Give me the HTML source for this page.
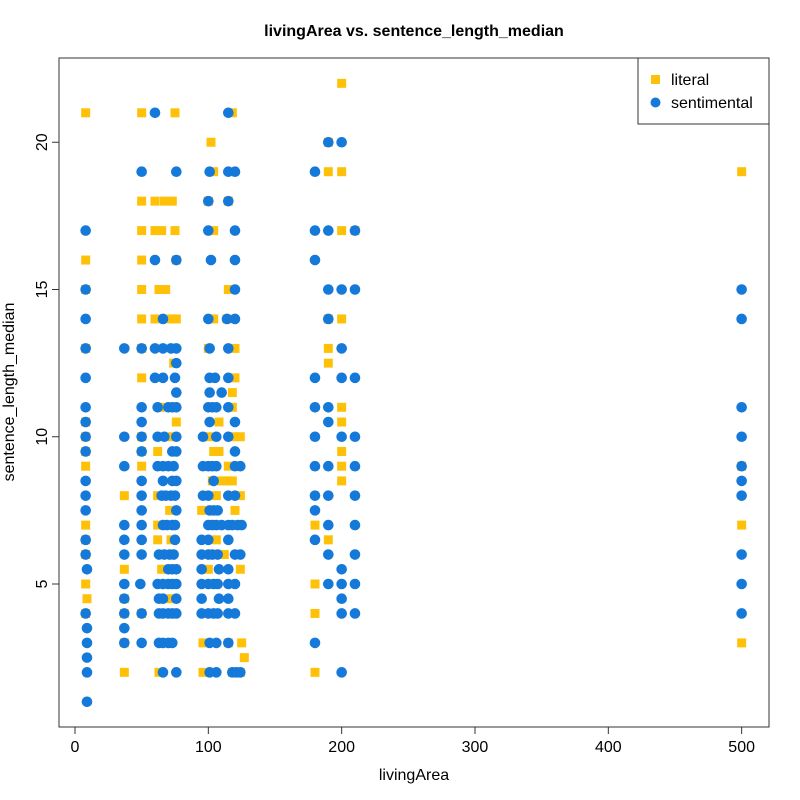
<!DOCTYPE html>
<html><head><meta charset="utf-8"><style>
body{margin:0;background:#fff}
svg{display:block;font-family:"Liberation Sans",Arial,sans-serif}
</style></head><body>
<svg id="chart" width="800" height="800" viewBox="0 0 800 800">
<rect x="0" y="0" width="800" height="800" fill="#fff"/>
<text x="414" y="36" text-anchor="middle" font-size="16" font-weight="bold">livingArea vs. sentence_length_median</text>
<g id="marks"></g>
<rect x="59" y="58" width="710" height="669" fill="none" stroke="#333" stroke-width="1"/>
<g id="axes"></g>
<text x="414" y="780" text-anchor="middle" font-size="16">livingArea</text>
<text transform="translate(14,392) rotate(-90)" text-anchor="middle" font-size="16">sentence_length_median</text>
<g>
<rect x="638" y="58" width="131" height="66" fill="#fff" stroke="#333"/>
<rect x="651" y="75" width="9" height="9" fill="#FFC107"/>
<text x="671" y="85" font-size="16">literal</text>
<circle cx="655.5" cy="102.5" r="5" fill="#1479D9"/>
<text x="671" y="108" font-size="16">sentimental</text>
</g>
</svg>
<script>
const xTicks=[0,100,200,300,400,500];
const yTicks=[5,10,15,20];
const literalPts=[
[8,21],[50,21],[75,21],[118,21],[102,20],[104,19],[50,18],[60,18],[67,18],[73,18],[100,18],[115,18],
[50,17],[60,17],[65,17],[75,17],[104,17],[8,16],[50,16],[76,16],[8,15],[50,15],[63,15],[68,15],[115,15],
[50,14],[60,14],[72,14],[76,14],[104,14],[114,14],[8,13],[50,13],[100,13],[120,13],[74,12.5],[50,12],[120,12],[118,11.5],
[65,11],[118,11],[8,10.5],[76,10.5],[108,10.5],[8,10],[50,10],[73,10],[100,10],[120,10],[124,10],
[8,9.5],[50,9.5],[62,9.5],[104,9.5],[108,9.5],[8,9],[50,9],[115,9],[103,8.5],[110,8.5],[114,8.5],[118,8.5],
[37,8],[62,8],[106,8],[124,8],[71,7.5],[95,7.5],[120,7.5],[8,7],[62,7],[8,6.5],[62,6.5],[72,6.5],[106,6.5],
[8,6],[112,6],[37,5.5],[65,5.5],[100,5.5],[124,5.5],[8,5],[9,4.5],[37,4.5],[72,4.5],[8,4],[37,4],[50,4],
[37,3],[96,3],[115,3],[125,3],[127,2.5],[37,2],[63,2],[96,2],[118,2],[124,2],
[200,22],[190,20],[190,19],[200,19],[200,17],[210,17],[190,14],[200,14],[190,13],[190,12.5],[200,11],[200,10.5],
[200,9.5],[200,9],[200,8.5],[180,7],[190,6.5],[180,5],[180,4],[180,2],
[500,19],[500,9],[500,7],[500,3]
];
const sentimentalPts=[
[60,21],[115,21],[50,19],[76,19],[101,19],[115,19],[120,19],[100,18],[115,18],[8,17],[100,17],[120,17],
[60,16],[76,16],[102,16],[120,16],[8,15],[120,15],[8,14],[66,14],[100,14],[114,14],[120,14],
[8,13],[37,13],[50,13],[60,13],[66,13],[72,13],[76,13],[101,13],[115,13],[76,12.5],
[8,12],[60,12],[66,12],[75,12],[101,12],[105,12],[115,12],[76,11.5],[101,11.5],[110,11.5],
[8,11],[50,11],[62,11],[70,11],[73,11],[76,11],[100,11],[103,11],[106,11],[115,11],
[8,10.5],[50,10.5],[101,10.5],[120,10.5],[8,10],[37,10],[50,10],[62,10],[67,10],[76,10],[96,10],[106,10],[115,10],
[8,9.5],[50,9.5],[73,9.5],[76,9.5],[120,9.5],[37,9],[62,9],[66,9],[70,9],[74,9],[96,9],[100,9],[103,9],[106,9],[120,9],[124,9],
[8,8.5],[50,8.5],[66,8.5],[73,8.5],[76,8.5],[104,8.5],[8,8],[50,8],[65,8],[68,8],[72,8],[75,8],[96,8],[100,8],[115,8],[120,8],
[8,7.5],[50,7.5],[76,7.5],[101,7.5],[104,7.5],[107,7.5],[37,7],[50,7],[66,7],[69,7],[73,7],[75,7],[100,7],[103,7],[106,7],[110,7],[115,7],[118,7],[122,7],[125,7],
[8,6.5],[37,6.5],[50,6.5],[75,6.5],[95,6.5],[100,6.5],[115,6.5],[8,6],[37,6],[50,6],[63,6],[67,6],[71,6],[74,6],[95,6],[100,6],[103,6],[107,6],[120,6],[124,6],
[9,5.5],[70,5.5],[73,5.5],[76,5.5],[95,5.5],[108,5.5],[115,5.5],[37,5],[49,5],[62,5],[66,5],[70,5],[73,5],[76,5],[95,5],[100,5],[104,5],[107,5],[115,5],[120,5],
[37,4.5],[63,4.5],[66,4.5],[76,4.5],[95,4.5],[108,4.5],[115,4.5],[8,4],[37,4],[50,4],[63,4],[66,4],[70,4],[73,4],[76,4],[95,4],[100,4],[104,4],[107,4],[115,4],[120,4],
[9,3.5],[37,3.5],[9,3],[37,3],[50,3],[63,3],[66,3],[70,3],[73,3],[101,3],[106,3],[115,3],[9,2.5],
[9,2],[66,2],[76,2],[101,2],[106,2],[118,2],[121,2],[124,2],[9,1],
[190,20],[200,20],[180,19],[180,17],[190,17],[210,17],[180,16],[190,15],[200,15],[210,15],[190,14],[200,13],
[180,12],[200,12],[210,12],[180,11],[190,11],[190,10.5],[180,10],[200,10],[210,10],[180,9],[190,9],[210,9],
[180,8],[190,8],[210,8],[180,7.5],[190,7],[210,7],[180,6.5],[190,6],[210,6],[200,5.5],[190,5],[200,5],[210,5],
[200,4.5],[200,4],[210,4],[180,3],[200,2],
[500,15],[500,14],[500,11],[500,10],[500,9],[500,8.5],[500,8],[500,6],[500,5],[500,4]
];
const NS="http://www.w3.org/2000/svg";
function sx(v){return 75+v*1.3333;}
function sy(v){return 584-(v-5)*29.45;}
const marks=document.getElementById('marks');
literalPts.forEach(p=>{
  const r=document.createElementNS(NS,'rect');
  r.setAttribute('x',sx(p[0])-4.5);r.setAttribute('y',sy(p[1])-4.5);
  r.setAttribute('width',9);r.setAttribute('height',9);r.setAttribute('fill','#FFC107');
  
  
  marks.appendChild(r);
});
sentimentalPts.forEach(p=>{
  const c=document.createElementNS(NS,'circle');
  c.setAttribute('cx',sx(p[0]));c.setAttribute('cy',sy(p[1]));
  c.setAttribute('r',5.3);c.setAttribute('fill','#1479D9');
  
  
  marks.appendChild(c);
});
const axes=document.getElementById('axes');
function line(x1,y1,x2,y2,name){
  const l=document.createElementNS(NS,'line');
  l.setAttribute('x1',x1);l.setAttribute('y1',y1);l.setAttribute('x2',x2);l.setAttribute('y2',y2);
  l.setAttribute('stroke','#333');
  
  
  axes.appendChild(l);
}
line(sx(0),727,sx(500),727,'x-axis-line');
line(59,sy(5),59,sy(20),'y-axis-line');
xTicks.forEach(t=>{
  line(sx(t),727,sx(t),734,'x-tick');
  const tx=document.createElementNS(NS,'text');
  tx.setAttribute('x',sx(t));tx.setAttribute('y',752);tx.setAttribute('text-anchor','middle');tx.setAttribute('font-size','16');
  tx.textContent=t;
  
  
  axes.appendChild(tx);
});
yTicks.forEach(t=>{
  line(52,sy(t),59,sy(t),'y-tick');
  const tx=document.createElementNS(NS,'text');
  tx.setAttribute('transform','translate(47,'+sy(t)+') rotate(-90)');tx.setAttribute('text-anchor','middle');tx.setAttribute('font-size','16');
  tx.textContent=t;
  
  
  axes.appendChild(tx);
});
</script>
</body></html>
